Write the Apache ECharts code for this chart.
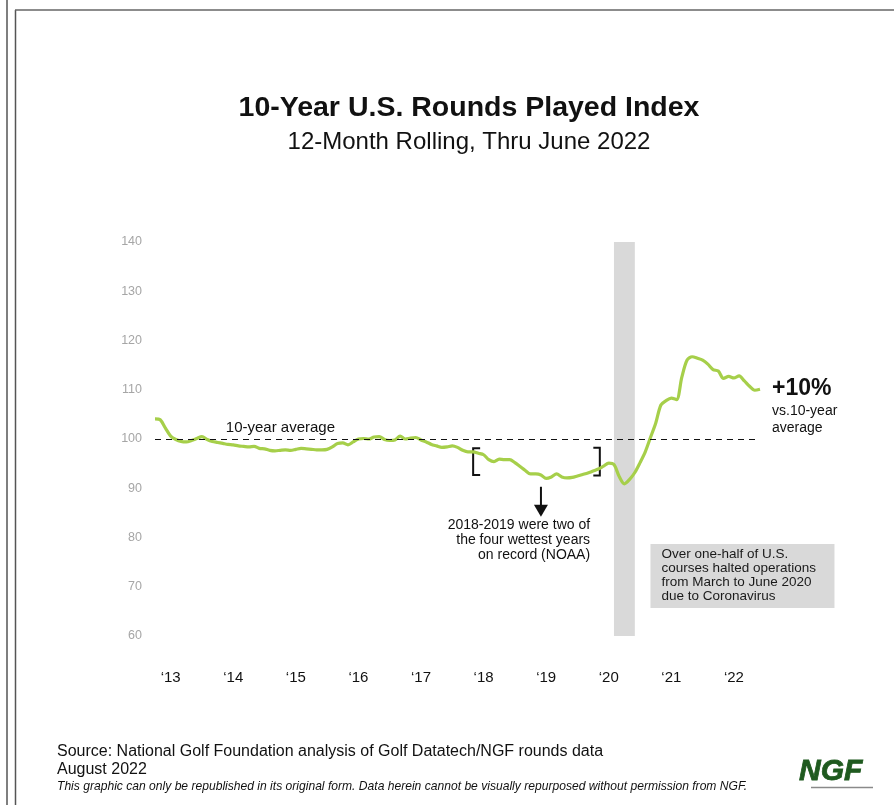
<!DOCTYPE html>
<html>
<head>
<meta charset="utf-8">
<script src="https://cdn.jsdelivr.net/npm/echarts@6/dist/echarts.min.js"></script>
<style>
  html, body { margin: 0; padding: 0; background: #fff; }
  #chart { width: 894px; height: 805px; }
</style>
</head>
<body>
<div id="chart"></div>
<script>
const FONT = '"Liberation Sans", Arial, Helvetica, sans-serif';

// Monthly categories: Oct 2012 through Jun 2022
const months = [];
for (let y = 2012, m = 10; y < 2022 || (y === 2022 && m <= 6);) {
  months.push(y + '-' + String(m).padStart(2, '0'));
  m++;
  if (m > 12) { m = 1; y++; }
}

// 12-month rolling rounds played index (10-year average = 100)
const roundsIndex = [
  104.1, 103.9, 102.2, 100.6, 99.9, 99.5, 99.4, 99.7, 100.1, 100.5, 99.9, 99.5,
  99.3, 99.1, 98.9, 98.8, 98.6, 98.5, 98.4, 98.5, 98.1, 98.0, 97.7, 97.6,
  97.7, 97.8, 97.7, 97.9, 98.1, 98.0, 97.9, 97.8, 97.8, 97.9, 98.4, 99.1,
  99.2, 98.8, 99.4, 100.0, 100.1, 100.0, 100.4, 100.5, 99.9, 99.7, 99.8, 100.6,
  100.0, 100.2, 100.3, 99.8, 99.4, 98.9, 98.6, 98.3, 98.4, 98.6, 98.3, 97.7,
  97.4, 97.4, 97.1, 96.8, 95.8, 95.4, 95.9, 95.8, 95.8, 95.2, 94.4, 93.6,
  92.9, 92.9, 92.7, 92.0, 92.3, 92.9, 92.3, 92.1, 92.2, 92.5, 92.8, 93.1,
  93.5, 93.9, 94.5, 95.1, 94.8, 92.4, 90.9, 91.8, 93.2, 95.2, 97.4, 100.3,
  103.2, 106.9, 107.8, 108.3, 108.0, 112.5, 116.0, 116.7, 116.4, 116.0, 115.2, 114.1,
  113.8, 112.3, 112.7, 112.4, 112.8, 111.8, 110.7, 109.9, 110.1
];

const averageLevel = 100;
const yRange = [60, 140];
const yStep = 10;
const shutdownMonths = ['2020-02', '2020-06'];

const titleText = '10-Year U.S. Rounds Played Index';
const subtitleText = '12-Month Rolling, Thru June 2022';
const lineColor = '#a6cf4a';

const chart = echarts.init(document.getElementById('chart'), null, { renderer: 'canvas' });

chart.setOption({
  animation: false,
  backgroundColor: '#ffffff',
  title: {
    text: titleText,
    subtext: subtitleText,
    left: 464,
    top: 89,
    textAlign: 'center',
    itemGap: 7,
    textStyle: { fontFamily: FONT, fontSize: 28.5, fontWeight: 'bold', color: '#111' },
    subtextStyle: { fontFamily: FONT, fontSize: 24, color: '#111' }
  },
  grid: { left: 155, right: 134, top: 242, bottom: 169 },
  xAxis: {
    type: 'category',
    data: months,
    boundaryGap: false,
    axisLine: { show: false },
    axisTick: { show: false },
    splitLine: { show: false },
    axisLabel: {
      interval: (i, v) => v.endsWith('-01'),
      formatter: v => '\u2018' + v.slice(2, 4),
      margin: 34,
      fontFamily: FONT,
      fontSize: 15,
      color: '#111'
    }
  },
  yAxis: {
    type: 'value',
    min: yRange[0],
    max: yRange[1],
    interval: yStep,
    axisLine: { show: false },
    axisTick: { show: false },
    splitLine: { show: false },
    axisLabel: { margin: 13, fontFamily: FONT, fontSize: 12.5, color: '#a6a6a6' }
  },
  series: [{
    type: 'line',
    data: roundsIndex,
    showSymbol: false,
    smooth: 0.3,
    lineStyle: { color: lineColor, width: 3.2 },
    z: 3,
    markLine: {
      silent: true,
      symbol: 'none',
      label: { show: false },
      lineStyle: { color: '#111', type: [6, 5], width: 1.2 },
      data: [{ yAxis: averageLevel }]
    },
    markArea: {
      silent: true,
      itemStyle: { color: '#d9d9d9' },
      data: [[
        { xAxis: shutdownMonths[0], yAxis: yRange[1] + 0.6 },
        { xAxis: shutdownMonths[1], yAxis: yRange[0] - 0.2 }
      ]]
    }
  }]
});

// Annotations placed through the chart's own coordinate system
const px = (month, value) => chart.convertToPixel({ xAxisIndex: 0, yAxisIndex: 0 }, [month, value]);
const lastMonth = months[months.length - 1];
const lastPt = px(lastMonth, roundsIndex[roundsIndex.length - 1]);

const avgLabelPt = px('2013-11', averageLevel);
const bracketL = [px('2017-11', 98.1), px('2017-11', 92.7)];
const bracketR = [px('2019-11', 98.2), px('2019-11', 92.6)];
const arrowTop = px('2018-12', 90.3);
const arrowTip = px('2018-12', 84.2);
const wetNoteAnchor = px('2019-10', 84.0);
const boxTopLeft = px('2020-09', 78.7);
const boxBottom = px('2020-09', 65.7);

const W = 894, H = 805;
const ink = '#111';

chart.setOption({
  graphic: [
    // page frame
    { type: 'line', shape: { x1: 7, y1: 0, x2: 7, y2: H }, style: { stroke: '#555', lineWidth: 1.5 } },
    { type: 'line', shape: { x1: 15.5, y1: 10, x2: 15.5, y2: H }, style: { stroke: '#555', lineWidth: 1.5 } },
    { type: 'line', shape: { x1: 15, y1: 10, x2: W, y2: 10 }, style: { stroke: '#666', lineWidth: 1.5 } },

    // 10-year average label
    {
      type: 'text', x: avgLabelPt[0] + 3, y: avgLabelPt[1] - 4,
      style: { text: '10-year average', font: '15px ' + FONT, fill: ink, textVerticalAlign: 'bottom' }
    },

    // brackets around the wet years
    {
      type: 'polyline',
      shape: { points: [[bracketL[0][0] + 7, bracketL[0][1]], [bracketL[0][0], bracketL[0][1]], [bracketL[1][0], bracketL[1][1]], [bracketL[1][0] + 7, bracketL[1][1]]] },
      style: { stroke: ink, lineWidth: 2, fill: null }
    },
    {
      type: 'polyline',
      shape: { points: [[bracketR[0][0] - 5, bracketR[0][1]], [bracketR[0][0] + 1.5, bracketR[0][1]], [bracketR[1][0] + 1.5, bracketR[1][1]], [bracketR[1][0] - 5, bracketR[1][1]]] },
      style: { stroke: ink, lineWidth: 2, fill: null }
    },

    // downward arrow
    { type: 'line', shape: { x1: arrowTop[0], y1: arrowTop[1], x2: arrowTip[0], y2: arrowTip[1] - 10 }, style: { stroke: ink, lineWidth: 2 } },
    {
      type: 'polygon',
      shape: { points: [[arrowTip[0] - 7, arrowTip[1] - 12], [arrowTip[0] + 7, arrowTip[1] - 12], [arrowTip[0], arrowTip[1]]] },
      style: { fill: ink }
    },
    {
      type: 'text', x: wetNoteAnchor[0] - 3, y: wetNoteAnchor[1],
      style: {
        text: '2018-2019 were two of\nthe four wettest years\non record (NOAA)',
        font: '14px ' + FONT, fill: ink, textAlign: 'right', textVerticalAlign: 'top', lineHeight: 15
      }
    },

    // shutdown note box
    {
      type: 'rect',
      shape: { x: boxTopLeft[0], y: boxTopLeft[1], width: 184, height: boxBottom[1] - boxTopLeft[1] },
      style: { fill: '#d9d9d9' }
    },
    {
      type: 'text', x: boxTopLeft[0] + 11, y: boxTopLeft[1] + 3,
      style: {
        text: 'Over one-half of U.S.\ncourses halted operations\nfrom March to June 2020\ndue to Coronavirus',
        font: '13.5px ' + FONT, fill: '#1a1a1a', textVerticalAlign: 'top', lineHeight: 14
      }
    },

    // end-of-line callout
    {
      type: 'text', x: lastPt[0] + 12, y: lastPt[1] - 1,
      style: { text: '+10%', font: 'bold 23px ' + FONT, fill: ink, textVerticalAlign: 'middle' }
    },
    {
      type: 'text', x: lastPt[0] + 12, y: lastPt[1] + 13,
      style: { text: 'vs.10-year\naverage', font: '14px ' + FONT, fill: ink, textVerticalAlign: 'top', lineHeight: 17 }
    },

    // footer
    {
      type: 'text', x: 57, y: 752,
      style: { text: 'Source: National Golf Foundation analysis of Golf Datatech/NGF rounds data', font: '16px ' + FONT, fill: ink, textVerticalAlign: 'middle' }
    },
    {
      type: 'text', x: 57, y: 770,
      style: { text: 'August 2022', font: '16px ' + FONT, fill: ink, textVerticalAlign: 'middle' }
    },
    {
      type: 'text', x: 57, y: 787,
      style: { text: 'This graphic can only be republished in its original form. Data herein cannot be visually repurposed without permission from NGF.', font: 'italic 12.1px ' + FONT, fill: ink, textVerticalAlign: 'middle' }
    },

    // NGF wordmark
    {
      type: 'text', x: 799, y: 787,
      style: { text: 'NGF', font: 'italic bold 30px ' + FONT, fill: '#1f5a1f', stroke: '#1f5a1f', lineWidth: 0.8, textVerticalAlign: 'bottom' }
    },
    { type: 'line', shape: { x1: 811, y1: 787.5, x2: 873, y2: 787.5 }, style: { stroke: '#8a8a8a', lineWidth: 1.5 } }
  ]
});
</script>
</body>
</html>
